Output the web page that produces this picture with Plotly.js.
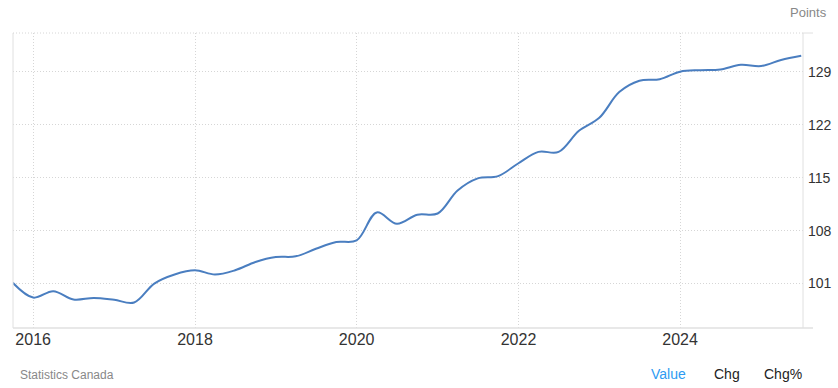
<!DOCTYPE html>
<html>
<head>
<meta charset="utf-8">
<script src="https://cdn.plot.ly/plotly-3.0.1.min.js"></script>
<style>
html,body{margin:0;padding:0;background:#fff;}
#chart{width:838px;height:388px;}
</style>
</head>
<body>
<div id="chart"></div>
<script>
const dates = [
 "2015-10-01","2016-01-01","2016-04-01","2016-07-01","2016-10-01",
 "2017-01-01","2017-04-01","2017-07-01","2017-10-01",
 "2018-01-01","2018-04-01","2018-07-01","2018-10-01",
 "2019-01-01","2019-04-01","2019-07-01","2019-10-01",
 "2020-01-01","2020-04-01","2020-07-01","2020-10-01",
 "2021-01-01","2021-04-01","2021-07-01","2021-10-01",
 "2022-01-01","2022-04-01","2022-07-01","2022-10-01",
 "2023-01-01","2023-04-01","2023-07-01","2023-10-01",
 "2024-01-01","2024-04-01","2024-07-01","2024-10-01",
 "2025-01-01","2025-04-01","2025-07-01"
];
const values = [
 101.1, 99.15, 100.0, 98.9, 99.1,
 98.85, 98.5, 101.0, 102.2,
 102.75, 102.2, 102.76, 103.85,
 104.5, 104.6, 105.6, 106.5,
 106.7, 110.4, 108.9, 110.1,
 110.26, 113.3, 114.9, 115.2,
 116.9, 118.4, 118.4, 121.2,
 122.9, 126.3, 127.8, 128.0,
 129.0, 129.2, 129.3, 129.9,
 129.75, 130.55, 131.1
];
const yTicks = [101, 108, 115, 122, 129];
const xTickStart = "2016-01-01";

const font = "Liberation Sans, Arial, sans-serif";

const trace = {
  x: dates, y: values, type: "scatter", mode: "lines",
  line: {color: "#4a7ec0", width: 2, shape: "spline", smoothing: 1},
  hoverinfo: "x+y"
};

const layout = {
  width: 838, height: 388,
  margin: {l: 13, r: 35, t: 33, b: 60, pad: 0},
  paper_bgcolor: "#fff", plot_bgcolor: "#fff",
  showlegend: false,
  font: {family: font, color: "#333"},
  xaxis: {
    type: "date",
    range: ["2015-10-02", "2025-07-09"],
    tick0: xTickStart, dtick: "M24", tickformat: "%Y",
    showgrid: true, gridcolor: "#d6d6d6", griddash: "1px,2px", gridwidth: 1,
    showline: false, zeroline: false, ticks: "",
    tickfont: {family: font, size: 16, color: "#333"},
    ticklabelstandoff: 0
  },
  yaxis: {
    side: "right",
    range: [95.13, 134.11],
    tickvals: yTicks,
    showgrid: true, gridcolor: "#d6d6d6", griddash: "1px,2px", gridwidth: 1,
    showline: false, zeroline: false, ticks: "",
    tickfont: {family: font, size: 14, color: "#333"},
    ticklabelstandoff: 4
  },
  shapes: [
    {type: "line", xref: "paper", yref: "paper", x0: 0, x1: 0, y0: 0, y1: 1, line: {color: "#e0e0e0", width: 1}},
    {type: "line", xref: "paper", yref: "paper", x0: 1, x1: 1, y0: 0, y1: 1, line: {color: "#e0e0e0", width: 1}},
    {type: "line", xref: "paper", yref: "paper", x0: 0, x1: 1.0127, y0: 0, y1: 0, line: {color: "#e0e0e0", width: 1.5}},
    {type: "line", xref: "paper", yref: "paper", x0: 0, x1: 1, y0: 1, y1: 1, line: {color: "#d6d6d6", width: 1, dash: "1px,2px"}},
    {type: "line", xref: "paper", yref: "paper", x0: 1, x1: 1.0127, y0: 1, y1: 1, line: {color: "#e0e0e0", width: 1}}
  ],
  annotations: [
    {text: "Points", xref: "paper", yref: "paper", x: 1.0329, y: 1.071, xanchor: "right", yanchor: "middle", showarrow: false, font: {family: font, size: 13, color: "#888"}},
    {text: "Statistics Canada", xref: "paper", yref: "paper", x: 0.0063, y: -0.159, xanchor: "left", yanchor: "middle", showarrow: false, font: {family: font, size: 12, color: "#888"}},
    {text: "Value", xref: "paper", yref: "paper", x: 0.805, y: -0.155, xanchor: "left", yanchor: "middle", showarrow: false, font: {family: font, size: 14, color: "#2e9bf2"}},
    {text: "Chg", xref: "paper", yref: "paper", x: 0.8844, y: -0.155, xanchor: "left", yanchor: "middle", showarrow: false, font: {family: font, size: 14, color: "#222"}},
    {text: "Chg%", xref: "paper", yref: "paper", x: 0.9477, y: -0.155, xanchor: "left", yanchor: "middle", showarrow: false, font: {family: font, size: 14, color: "#222"}}
  ]
};

Plotly.newPlot("chart", [trace], layout, {displayModeBar: false, staticPlot: true});
</script>
</body>
</html>
